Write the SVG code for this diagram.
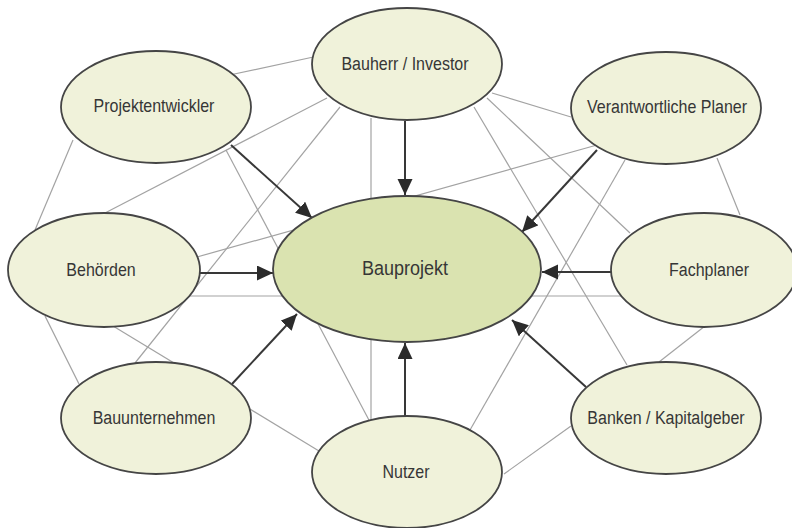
<svg xmlns="http://www.w3.org/2000/svg" width="792" height="528" viewBox="0 0 792 528">
  <style>
    .link { stroke: #a3a3a3; stroke-width: 1.2; fill: none; }
    .flow { stroke: #383838; stroke-width: 2; fill: none; marker-end: url(#head); }
    .node { fill: #f0f2da; stroke: #454545; stroke-width: 1.8; }
    .core { fill: #dae3b0; stroke: #454545; stroke-width: 1.8; }
    .label { font-family: "Liberation Sans", Arial, sans-serif; font-size: 16px; fill: #363636; text-anchor: middle; }
    .title { font-size: 18px; }
  </style>
  <defs>
    <marker id="head" markerUnits="userSpaceOnUse" markerWidth="17" markerHeight="16" refX="16" refY="7.5" orient="auto">
      <path d="M0,0 L16,7.5 L0,15 z" fill="#2b2b2b"/>
    </marker>
  </defs>

  <rect width="792" height="528" fill="#ffffff"/>

  <!-- thin relations between the parties (drawn beneath the nodes) -->
  <g id="links">
    <line class="link" x1="225" y1="76" x2="318" y2="56"/>
    <line class="link" x1="327" y1="98" x2="105" y2="213"/>
    <line class="link" x1="340" y1="107" x2="135" y2="363"/>
    <line class="link" x1="73" y1="140" x2="35" y2="230"/>
    <line class="link" x1="226" y1="150" x2="370" y2="422"/>
    <line class="link" x1="197" y1="257" x2="597" y2="145"/>
    <line class="link" x1="371" y1="118" x2="371" y2="421"/>
    <line class="link" x1="492" y1="93" x2="571" y2="117"/>
    <line class="link" x1="487" y1="98" x2="630" y2="233"/>
    <line class="link" x1="474" y1="107" x2="627" y2="365"/>
    <line class="link" x1="625" y1="160" x2="470" y2="430"/>
    <line class="link" x1="717" y1="158" x2="740" y2="215"/>
    <line class="link" x1="190" y1="296" x2="622" y2="296"/>
    <line class="link" x1="45" y1="316" x2="79" y2="384"/>
    <line class="link" x1="113" y1="326" x2="319" y2="451"/>
    <line class="link" x1="705" y1="326" x2="659" y2="362"/>
    <line class="link" x1="504" y1="474" x2="571" y2="426"/>
  </g>

  <!-- arrows into the project -->
  <g id="flows">
    <line class="flow" x1="231" y1="145" x2="312" y2="218"/>
    <line class="flow" x1="405" y1="121" x2="405" y2="195"/>
    <line class="flow" x1="597" y1="150" x2="522" y2="232"/>
    <line class="flow" x1="199" y1="273" x2="273" y2="273"/>
    <line class="flow" x1="612" y1="272" x2="542" y2="272"/>
    <line class="flow" x1="232" y1="384" x2="297" y2="314"/>
    <line class="flow" x1="405" y1="418" x2="405" y2="343"/>
    <line class="flow" x1="586" y1="387" x2="512" y2="320"/>
  </g>

  <!-- labels are set on their baseline and stretched slightly upward -->
  <g id="bauprojekt">
    <ellipse class="core" cx="407" cy="269" rx="134" ry="73"/>
    <text class="label title" transform="translate(405 275) scale(1 1.16)">Bauprojekt</text>
  </g>
  <g id="projektentwickler">
    <ellipse class="node" cx="156" cy="107" rx="95" ry="56"/>
    <text class="label" transform="translate(154 112) scale(1 1.13)">Projektentwickler</text>
  </g>
  <g id="bauherr">
    <ellipse class="node" cx="407" cy="64" rx="95" ry="56"/>
    <text class="label" transform="translate(405 70) scale(1 1.13)">Bauherr / Investor</text>
  </g>
  <g id="planer">
    <ellipse class="node" cx="666" cy="108" rx="95" ry="56"/>
    <text class="label" transform="translate(667 113) scale(1 1.13)">Verantwortliche Planer</text>
  </g>
  <g id="behoerden">
    <ellipse class="node" cx="104" cy="270" rx="96" ry="57"/>
    <text class="label" transform="translate(101 276) scale(1 1.13)">Behörden</text>
  </g>
  <g id="fachplaner">
    <ellipse class="node" cx="704" cy="270" rx="93" ry="57"/>
    <text class="label" transform="translate(709 276) scale(1 1.13)">Fachplaner</text>
  </g>
  <g id="bauunternehmen">
    <ellipse class="node" cx="156" cy="418" rx="95" ry="56"/>
    <text class="label" transform="translate(154 424) scale(1 1.13)">Bauunternehmen</text>
  </g>
  <g id="nutzer">
    <ellipse class="node" cx="407" cy="472" rx="95" ry="56"/>
    <text class="label" transform="translate(406 478) scale(1 1.13)">Nutzer</text>
  </g>
  <g id="banken">
    <ellipse class="node" cx="666" cy="418" rx="95" ry="56"/>
    <text class="label" transform="translate(666 424) scale(1 1.13)">Banken / Kapitalgeber</text>
  </g>
</svg>
